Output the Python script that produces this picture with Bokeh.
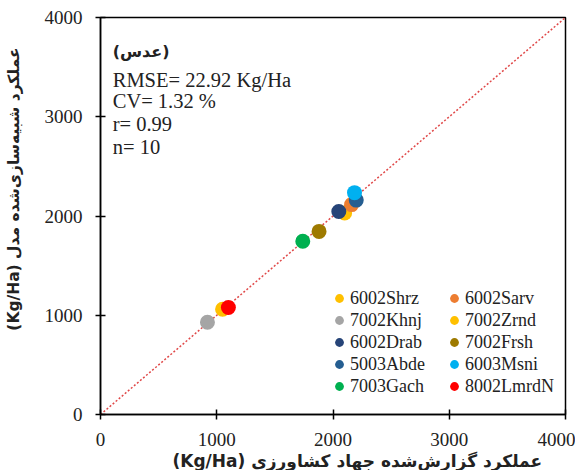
from bokeh.plotting import figure
from bokeh.models import ColumnDataSource, Label, Legend, LegendItem, Range1d, FixedTicker, Title
from bokeh.embed import file_html
from bokeh.resources import INLINE

# Data (Kg/Ha): reported (x) vs simulated (y)
stations = ["6002Shrz", "6002Sarv", "7002Khnj", "7002Zrnd", "6002Drab",
            "7002Frsh", "5003Abde", "6003Msni", "7003Gach", "8002LmrdN"]
observed = [2100, 2160, 920, 1050, 2050, 1880, 2200, 2185, 1740, 1100]
simulated = [2030, 2115, 930, 1060, 2045, 1845, 2160, 2235, 1745, 1078]
colors = ["#FFC000", "#ED7D31", "#A5A5A5", "#FFC000", "#264478",
          "#9E7A00", "#255E91", "#00B0F0", "#00B050", "#FF0000"]
ticks = [0, 1000, 2000, 3000, 4000]
one_to_one = [0, 4000]
stats_lines = ["(عدس)", "RMSE= 22.92 Kg/Ha", "CV= 1.32 %", "r= 0.99", "n= 10"]
x_title = "(Kg/Ha) عملکرد گزارش‌شده جهاد کشاورزی"
y_title = "(Kg/Ha) عملکرد شبیه‌سازی‌شده مدل"

p = figure(output_backend="svg", toolbar_location=None,
           x_range=Range1d(0, 4000), y_range=Range1d(0, 4000),
           frame_width=465, frame_height=397, min_border_left=100,
           min_border_right=10, min_border_top=17, min_border_bottom=40)
p.background_fill_color = "white"
p.border_fill_color = "white"
p.outline_line_color = "black"
p.outline_line_width = 1.5
p.grid.visible = False

for ax in (p.xaxis[0], p.yaxis[0]):
    ax.ticker = FixedTicker(ticks=ticks)
    ax.minor_tick_line_color = None
    ax.major_tick_in = 5
    ax.major_tick_out = 5
    ax.axis_line_color = "black"
    ax.axis_line_width = 1.5
    ax.major_tick_line_color = "black"
    ax.major_tick_line_width = 1.5
    ax.major_label_text_font = "Liberation Serif"
    ax.major_label_text_font_size = "19px"
    ax.major_label_text_color = "#222222"

p.xaxis.major_label_standoff = 13
p.yaxis.major_label_standoff = 13

# y-axis title (leading no-break spaces lift the visible text toward the top)
yax = p.yaxis[0]
yax.axis_label = "\u00a0" * 10 + y_title
yax.axis_label_standoff = 19
yax.axis_label_text_font = "DejaVu Sans"
yax.axis_label_text_font_style = "bold"
yax.axis_label_text_font_size = "15.5px"
yax.axis_label_text_color = "#222222"

xt = Title(text=x_title, align="left", offset=72, standoff=0,
           text_font="DejaVu Sans", text_font_style="bold", text_font_size="17px",
           text_color="#222222")
p.add_layout(xt, "below")

p.line(one_to_one, one_to_one, line_color="#E04848", line_width=1.5, line_dash="2 2")

items = []
for i, name in enumerate(stations):
    src = ColumnDataSource(dict(x=[observed[i]], y=[simulated[i]]))
    r = p.scatter("x", "y", source=src, size=15, fill_color=colors[i],
                  line_color=colors[i], line_width=0)
    items.append((name, r))

# column-major order for the two-column legend
order = [0, 2, 4, 6, 8, 1, 3, 5, 7, 9]
legend = Legend(items=[LegendItem(label=items[k][0], renderers=[items[k][1]]) for k in order],
                ncols=2, location=(228, 17), padding=0, margin=0, spacing=0,
                glyph_width=22, glyph_height=22, label_height=20, label_width=93,
                label_standoff=0, border_line_color=None, background_fill_alpha=0,
                label_text_font="Liberation Serif", label_text_font_size="18px",
                label_text_color="#222222")
p.add_layout(legend, "center")

ys = [3657, 3370, 3154, 2922, 2700]
for i, t in enumerate(stats_lines):
    if i == 0:
        lab = Label(x=105, y=ys[i], text=t, text_font="DejaVu Sans", text_font_style="bold",
                    text_font_size="16px", text_baseline="middle", text_color="#222222")
    else:
        lab = Label(x=105, y=ys[i], text=t, text_font="Liberation Serif",
                    text_font_size="20.5px", text_baseline="middle", text_color="#222222")
    p.add_layout(lab)

open("out.html", "w").write(file_html(p, INLINE))
